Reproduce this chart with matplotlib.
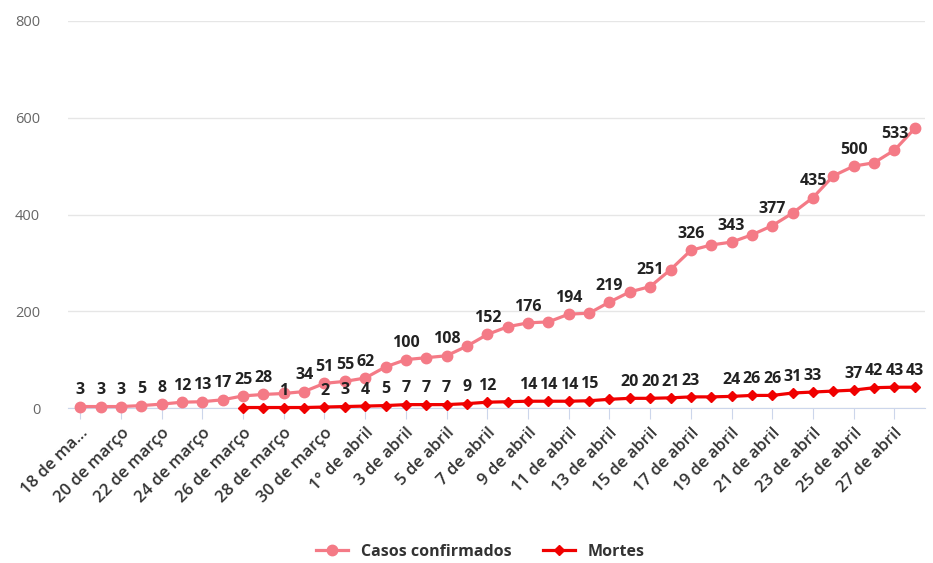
import matplotlib.pyplot as plt

plt.rcParams['font.family'] = ['Open Sans', 'DejaVu Sans']

# 18 de março ... 28 de abril (42 dias)
dias = list(range(42))
rotulos_eixo = ["18 de ma…", "20 de março", "22 de março", "24 de março", "26 de março",
                "28 de março", "30 de março", "1° de abril", "3 de abril", "5 de abril",
                "7 de abril", "9 de abril", "11 de abril", "13 de abril", "15 de abril",
                "17 de abril", "19 de abril", "21 de abril", "23 de abril", "25 de abril",
                "27 de abril"]

casos = [3, 3, 3, 5, 8, 12, 13, 17, 25, 28, 30, 34, 51, 55, 62, 85, 100, 104, 108, 128,
         152, 168, 176, 178, 194, 196, 219, 240, 251, 286, 326, 337, 343, 358, 377, 403,
         435, 480, 500, 507, 533, 578]
# rótulos visíveis (os outros estão escondidos por sobreposição)
casos_com_rotulo = [0, 1, 2, 3, 4, 5, 6, 7, 8, 9, 11, 12, 13, 14, 16, 18, 20, 22, 24, 26,
                    28, 30, 32, 34, 36, 38, 40]

dias_mortes = list(range(8, 42))
mortes = [1, 1, 1, 1, 2, 3, 4, 5, 7, 7, 7, 9, 12, 13, 14, 14, 14, 15, 18, 20, 20, 21, 23,
          23, 24, 26, 26, 31, 33, 35, 37, 42, 43, 43]
mortes_com_rotulo = [10, 12, 13, 14, 15, 16, 17, 18, 19, 20, 22, 23, 24, 25, 27, 28, 29,
                     30, 32, 33, 34, 35, 36, 38, 39, 40, 41]

cor_casos = '#f47a86'
cor_mortes = '#f00000'

fig = plt.figure(figsize=(9.33, 5.63), dpi=100)
ax = fig.add_axes([68 / 933, 1 - 408 / 563, (925 - 68) / 933, (408 - 21) / 563])

ax.plot(dias, casos, color=cor_casos, lw=2.3, marker='o', markersize=7.5,
        label='Casos confirmados', clip_on=False, zorder=3)
ax.plot(dias_mortes, mortes, color=cor_mortes, lw=2.3, marker='D', markersize=5.5,
        label='Mortes', clip_on=False, zorder=4)

for i in casos_com_rotulo:
    ax.annotate(str(casos[i]), (dias[i], casos[i]), xytext=(0, 6), textcoords='offset points',
                ha='center', va='bottom', fontsize=11.5, fontweight='bold', color='#222222',
                zorder=5)
for i in mortes_com_rotulo:
    k = dias_mortes.index(i)
    ax.annotate(str(mortes[k]), (i, mortes[k]), xytext=(0, 6), textcoords='offset points',
                ha='center', va='bottom', fontsize=11.5, fontweight='bold', color='#222222',
                zorder=5)

ax.set_xlim(-0.6, 41.5)
ax.set_ylim(0, 800)
ax.set_yticks([0, 200, 400, 600, 800])
ax.yaxis.grid(True, color='#e6e6e6', lw=1)
ax.set_axisbelow(True)
ax.tick_params(axis='y', length=0, pad=20, labelsize=10.5, labelcolor='#666666')

ax.set_xticks(dias[::2])
ax.set_xticklabels(rotulos_eixo, rotation=45, ha='right', rotation_mode='anchor',
                   fontsize=12, fontweight='semibold', color='#333333')
ax.tick_params(axis='x', length=8, color='#ccd6eb', pad=4)

for s in ['top', 'right', 'left']:
    ax.spines[s].set_visible(False)
ax.spines['bottom'].set_color('#ccd6eb')

leg = fig.legend(loc='center', bbox_to_anchor=(0.515, 1 - 552 / 563), ncol=2, frameon=False,
                 prop={'weight': 'bold', 'size': 11.5}, handlelength=2, columnspacing=2)
for t in leg.get_texts():
    t.set_color('#333333')

fig.savefig('out.png', dpi=100)
